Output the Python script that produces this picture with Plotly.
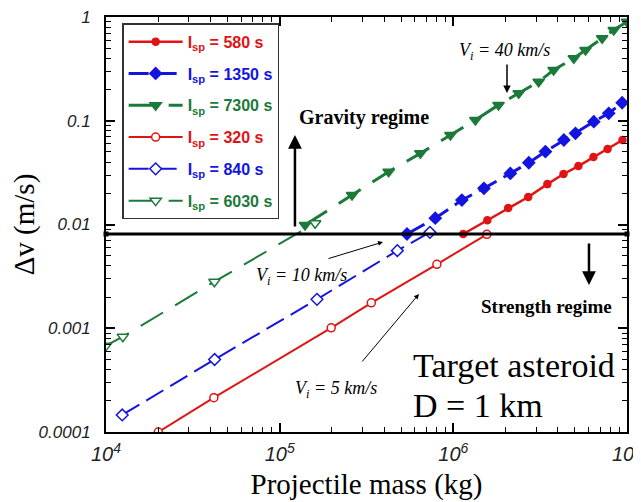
import plotly.graph_objects as go

# ---- data ----
mass_580 = [1.14e6, 1.57e6, 2.07e6, 2.70e6, 3.48e6, 4.31e6, 5.25e6, 6.41e6, 7.73e6, 9.42e6]
dv_580 = [0.0081, 0.0110, 0.0144, 0.0184, 0.0245, 0.0307, 0.0366, 0.0448, 0.0535, 0.0652]

mass_1350 = [5.41e5, 7.87e5, 1.12e6, 1.50e6, 2.13e6, 2.72e6, 3.39e6, 4.33e6, 5.05e6, 6.44e6, 7.85e6, 9.38e6]
dv_1350 = [0.0081, 0.0115, 0.0172, 0.0223, 0.0311, 0.0394, 0.0504, 0.0652, 0.0757, 0.098, 0.118, 0.149]

mass_7300 = [1.40e5, 2.61e5, 4.24e5, 6.46e5, 9.62e5, 1.34e6, 1.82e6, 2.38e6, 3.10e6, 3.78e6, 4.94e6, 5.77e6, 7.19e6, 8.39e6, 1.0e7]
dv_7300 = [0.0099, 0.0192, 0.0323, 0.0485, 0.0729, 0.1016, 0.142, 0.184, 0.238, 0.308, 0.400, 0.481, 0.624, 0.750, 0.90]

mass_320 = [2.0e4, 4.18e4, 1.98e5, 3.37e5, 8.04e5, 1.56e6]
dv_320 = [1.0e-4, 2.14e-4, 1.01e-3, 1.76e-3, 4.13e-3, 8.05e-3]

mass_840 = [1.24e4, 4.22e4, 1.64e5, 4.76e5, 7.33e5]
dv_840 = [1.46e-4, 5.0e-4, 1.90e-3, 5.60e-3, 8.4e-3]

mass_6030 = [1.0e4, 1.25e4, 4.21e4, 1.60e5]
dv_6030 = [6.8e-4, 8.3e-4, 2.81e-3, 0.0103]

threshold_dv = 0.0081
mass_range = [1e4, 1e7]

x_tickvals = [1e4, 1e5, 1e6, 1e7]
x_ticktext = ["10<sup>4</sup>", "10<sup>5</sup>", "10<sup>6</sup>", "10<sup>7</sup>"]
y_tickvals = [1e-4, 1e-3, 1e-2, 1e-1, 1]
y_ticktext = ["0.0001", "0.001", "0.01", "0.1", "1"]

RED = "#e01414"
BLUE = "#1414e0"
GREEN = "#1b7a3a"

def label(color, isp):
    return f"<span style='color:{color}'><b>I<sub>sp</sub> = {isp} s</b></span>"

fig = go.Figure()

def add(mx, dy, color, isp, width, dash, symbol, size, filled):
    marker = dict(symbol=symbol, size=size, color=color if filled else "white",
                  line=dict(color=color, width=1.5))
    fig.add_trace(go.Scatter(x=mx, y=dy, mode="lines+markers", name=label(color, isp),
                             line=dict(color=color, width=width, dash=dash),
                             marker=marker, legendgroup=str(isp)))

add(mass_580, dv_580, RED, 580, 2.5, "solid", "circle", 7, True)
add(mass_1350, dv_1350, BLUE, 1350, 3, "20px,8px", "diamond", 9, True)
add(mass_7300, dv_7300, GREEN, 7300, 3, "26px,14px", "triangle-down", 10, True)
add(mass_320, dv_320, RED, 320, 2, "solid", "circle", 8, False)
add(mass_840, dv_840, BLUE, 840, 2, "20px,8px", "diamond", 9, False)
add(mass_6030, dv_6030, GREEN, 6030, 2, "26px,14px", "triangle-down", 10, False)

fig.add_trace(go.Scatter(x=mass_range, y=[threshold_dv, threshold_dv], mode="lines+markers",
                         line=dict(color="black", width=3), marker=dict(symbol="square", size=5, color="black"),
                         showlegend=False, hoverinfo="skip", cliponaxis=False))

serif = "Liberation Serif"
sans = "Liberation Sans"

ann = []
# arrows (x, y in log10 units on log axes)
ann.append(dict(x=5.088, y=-1.137, ax=0, ay=93, showarrow=True, arrowhead=2, arrowsize=1.1, arrowwidth=2.5, arrowcolor="black", text=""))
ann.append(dict(x=6.781, y=-2.583, ax=0, ay=-43, showarrow=True, arrowhead=2, arrowsize=1.1, arrowwidth=2.5, arrowcolor="black", text=""))
ann.append(dict(x=6.309, y=-0.733, ax=0, ay=-30, showarrow=True, arrowhead=2, arrowsize=1, arrowwidth=1.5, arrowcolor="black", text=""))
ann.append(dict(x=5.595, y=-2.169, ax=-56, ay=17, showarrow=True, arrowhead=2, arrowsize=1, arrowwidth=1, arrowcolor="black", text=""))
ann.append(dict(x=5.802, y=-2.670, ax=-58, ay=69, showarrow=True, arrowhead=2, arrowsize=1, arrowwidth=1, arrowcolor="black", text=""))
# texts
ann.append(dict(x=5.485, y=-0.964, text="<b>Gravity regime</b>", showarrow=False, font=dict(family=serif, size=20, color="black")))
ann.append(dict(x=6.539, y=-2.795, text="<b>Strength regime</b>", showarrow=False, font=dict(family=serif, size=19, color="black")))
ann.append(dict(x=6.297, y=-0.33, text="V<sub>i</sub> = 40 km/s", showarrow=False, font=dict(family=serif, size=18, color="black", style="italic")))
ann.append(dict(x=5.123, y=-2.50, text="V<sub>i</sub> = 10 km/s", showarrow=False, font=dict(family=serif, size=18, color="black", style="italic")))
ann.append(dict(x=5.324, y=-3.59, text="V<sub>i</sub> = 5 km/s", showarrow=False, font=dict(family=serif, size=18, color="black", style="italic")))
ann.append(dict(x=5.759, y=-3.36, xanchor="left", text="Target asteroid", showarrow=False, font=dict(family=serif, size=34, color="black")))
ann.append(dict(x=5.759, y=-3.74, xanchor="left", text="D = 1 km", showarrow=False, font=dict(family=serif, size=34, color="black")))
for a in ann:
    a.setdefault("xref", "x")
    a.setdefault("yref", "y")

minor_x = [m * 10**e for e in range(4, 7) for m in range(2, 10)]
minor_y = [m * 10.0**e for e in range(-4, 0) for m in range(2, 10)]

# the page body has an 8px margin, so the figure is offset by 8px
fig.update_layout(
    width=633, height=494,
    margin=dict(l=98, r=14, t=9, b=70),
    paper_bgcolor="white", plot_bgcolor="white",
    showlegend=True,
    legend=dict(x=0.031, y=0.985, xanchor="left", yanchor="top",
                bordercolor="#333", borderwidth=1.5, bgcolor="white",
                font=dict(family=sans, size=16), itemwidth=54, tracegroupgap=8),
    annotations=ann,
)
fig.update_xaxes(type="log", range=[4, 7], tickvals=x_tickvals, ticktext=x_ticktext,
                 ticks="inside", ticklen=9, tickwidth=1.5, tickcolor="black",
                 showline=True, linecolor="black", linewidth=2, mirror="allticks",
                 showgrid=False, zeroline=False, automargin=False, ticklabeloverflow="allow",
                 ticklabelstandoff=3,
                 tickfont=dict(family=sans, size=20, color="#222", style="italic"),
                 minor=dict(tickvals=minor_x, ticks="inside", ticklen=5, tickcolor="black", tickwidth=1, showgrid=False),
                 title=dict(text="Projectile mass (kg)", font=dict(family=serif, size=29, color="black"), standoff=10))
fig.update_yaxes(type="log", range=[-4, 0], tickvals=y_tickvals, ticktext=y_ticktext,
                 ticks="inside", ticklen=9, tickwidth=1.5, tickcolor="black",
                 showline=True, linecolor="black", linewidth=2, mirror="allticks",
                 showgrid=False, zeroline=False, automargin=False, ticklabeloverflow="allow",
                 ticklabelstandoff=10,
                 tickfont=dict(family=sans, size=17, color="#222", style="italic"),
                 minor=dict(tickvals=minor_y, ticks="inside", ticklen=5, tickcolor="black", tickwidth=1, showgrid=False),
                 title=dict(text="Δv (m/s)", font=dict(family=serif, size=29, color="black"), standoff=4))

fig.write_html("out.html")
